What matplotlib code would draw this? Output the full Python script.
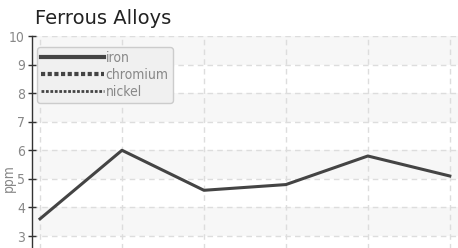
import matplotlib
matplotlib.use("Agg")
import matplotlib.pyplot as plt
from matplotlib.lines import Line2D
from matplotlib.font_manager import FontProperties

# --------- datos ---------
muestras = [0, 1, 2, 3, 4, 5]
iron = [3.6, 6.0, 4.6, 4.8, 5.8, 5.1]
series_names = ["iron", "chromium", "nickel"]
y_ticks = [3, 4, 5, 6, 7, 8, 9, 10]

GRIS_TXT = "#888888"
cond = FontProperties(family="DejaVu Sans", stretch="condensed", size=10)

fig = plt.figure(figsize=(4.58, 2.48), dpi=100)
W, H = 458, 248

# eje: x=32..458 px, y=10 arriba en 36 px, 28.57 px por unidad
ppu = 200 / 7
y_top, y_min, y_max = 36, 0, 10
ax_h = (y_max - y_min) * ppu
ax = fig.add_axes([32 / W, 1 - (y_top + ax_h) / H, (W - 32) / W, ax_h / H])
ax.set_ylim(y_min, y_max)
ax.set_xlim(-0.098, 5.1)

# bandas alternadas
for y0 in range(y_min, y_max):
    if (y_max - y0) % 2 == 1:
        ax.axhspan(y0, y0 + 1, color="#f7f7f7", zorder=0, lw=0)

ax.set_yticks(y_ticks)
ax.set_xticks(muestras)
ax.grid(True, color="#dddddd", linestyle=(0, (4, 3)), linewidth=1)
ax.set_axisbelow(True)

for s in ["top", "right", "bottom"]:
    ax.spines[s].set_visible(False)
ax.spines["left"].set_color("#333333")
ax.spines["left"].set_linewidth(1)
ax.tick_params(axis="y", direction="inout", length=6, width=1, color="#333333",
               labelcolor=GRIS_TXT, pad=2)
ax.tick_params(axis="x", length=0, labelbottom=False)
for lab in ax.get_yticklabels():
    lab.set_fontproperties(cond)

ax.plot(muestras, iron, color="#444444", linewidth=2.2, solid_joinstyle="round",
        zorder=3)

# etiqueta del eje y, pegada al borde izquierdo
fig.text(2 / W, 1 - 178 / H, "ppm", rotation=90, color=GRIS_TXT,
         fontproperties=cond, va="center", ha="left")

handles = [
    Line2D([], [], color="#444444", linewidth=3),
    Line2D([], [], color="#444444", linewidth=3, linestyle=(0, (1, 0.6))),
    Line2D([], [], color="#444444", linewidth=2, linestyle=(0, (1, 0.6))),
]
leg = ax.legend(handles, series_names, loc="upper left",
                bbox_to_anchor=(5 / (W - 32), 1 - 11 / ax_h),
                handlelength=4.5, handletextpad=0.15, labelspacing=0.2,
                borderpad=0.3, borderaxespad=0, fancybox=True, framealpha=1,
                facecolor="#f0f0f0", edgecolor="#cccccc", prop=cond)
for t in leg.get_texts():
    t.set_color(GRIS_TXT)

fig.text(35 / W, 1 - 18 / H, "Ferrous Alloys", fontsize=14, color="#222222",
         family="DejaVu Sans", va="center", ha="left")

fig.savefig("out.png", dpi=100)
